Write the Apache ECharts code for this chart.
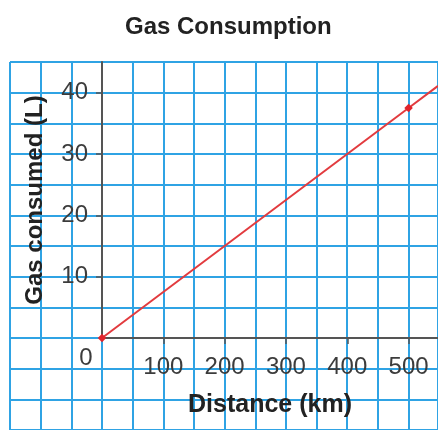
<!DOCTYPE html>
<html>
<head>
<meta charset="utf-8">
<script src="https://cdn.jsdelivr.net/npm/echarts@6/dist/echarts.min.js"></script>
<style>
  html, body { margin: 0; padding: 0; background: #fff; }
  #main { width: 438px; height: 430px; }
</style>
</head>
<body>
<div id="main"></div>
<script>
// values
var distance = [0, 500, 548];          // km
var gasUsed = [0, 37.5, 41.1];         // L
var showMarker = [true, true, false];  // last point is only where the line leaves the graph
var xTickValues = [100, 200, 300, 400, 500];
var yTickValues = [10, 20, 30, 40];

var blue = '#2fa3e4';
var axisGray = '#555';
var labelFont = "'Liberation Sans', Arial, sans-serif";

var chart = echarts.init(document.getElementById('main'));

var points = distance.map(function (d, i) {
  var item = { value: [d, gasUsed[i]] };
  if (!showMarker[i]) item.symbol = 'none';
  return item;
});

var option = {
  backgroundColor: '#fff',
  animation: false,
  title: {
    text: 'Gas Consumption',
    left: 120,
    top: 10,
    textStyle: {
      fontFamily: labelFont,
      fontWeight: 'bold',
      fontSize: 24,
      color: '#222'
    }
  },
  grid: [
    // graph paper
    { left: 10, top: 62, right: 0, bottom: 0 },
    // the quadrant with the axes
    { left: 102, top: 62, right: 0, bottom: 92 }
  ],
  xAxis: [
    {
      gridIndex: 0, type: 'value', min: -150, max: 548, interval: 50,
      axisLine: { show: false }, axisTick: { show: false }, axisLabel: { show: false },
      splitLine: { show: true, lineStyle: { color: blue, width: 2 } }
    },
    {
      gridIndex: 1, type: 'value', min: 0, max: 548, interval: 100, z: 5,
      name: 'Distance (km)',
      nameLocation: 'middle',
      nameGap: 55,
      nameTextStyle: { fontFamily: labelFont, fontWeight: 'bold', fontSize: 25, color: '#222' },
      axisLine: { show: true, onZero: false, lineStyle: { color: axisGray, width: 2 } },
      axisTick: { show: true, length: 6, customValues: xTickValues, lineStyle: { color: axisGray, width: 1.5 } },
      axisLabel: {
        customValues: xTickValues, margin: 17,
        fontFamily: labelFont, fontSize: 24, color: '#3c3c3c'
      },
      splitLine: { show: false }
    }
  ],
  yAxis: [
    {
      gridIndex: 0, type: 'value', min: -15, max: 45, interval: 5,
      axisLine: { show: false }, axisTick: { show: false }, axisLabel: { show: false },
      splitLine: { show: true, lineStyle: { color: blue, width: 2 } }
    },
    {
      gridIndex: 1, type: 'value', min: 0, max: 45, interval: 10, z: 5,
      name: 'Gas consumed (L)',
      nameLocation: 'middle',
      nameGap: 55,
      nameTextStyle: { fontFamily: labelFont, fontWeight: 'bold', fontSize: 24, color: '#222' },
      axisLine: { show: true, onZero: false, lineStyle: { color: axisGray, width: 2 } },
      axisTick: { show: true, length: 6, customValues: yTickValues, lineStyle: { color: axisGray, width: 1.5 } },
      axisLabel: {
        customValues: yTickValues, margin: 14,
        fontFamily: labelFont, fontSize: 24, color: '#3c3c3c'
      },
      splitLine: { show: false }
    }
  ],
  series: [
    {
      name: 'Gas consumed',
      type: 'line',
      xAxisIndex: 1,
      yAxisIndex: 1,
      z: 10,
      data: points,
      symbol: 'rect',
      symbolSize: 6,
      symbolRotate: 45,
      lineStyle: { color: '#e23b3f', width: 2 },
      itemStyle: { color: '#e0242c' }
    }
  ]
};

chart.setOption(option);

// the shared "0" at the origin sits below and left of the corner
var origin = chart.convertToPixel({ xAxisIndex: 1, yAxisIndex: 1 }, [0, 0]);
chart.setOption({
  graphic: [{
    type: 'text',
    x: origin[0] - 16,
    y: origin[1] + 20,
    z: 20,
    style: {
      text: '0',
      x: 0, y: 0,
      align: 'center',
      verticalAlign: 'middle',
      font: '24px ' + labelFont,
      fill: '#3c3c3c'
    }
  }]
});
</script>
</body>
</html>
